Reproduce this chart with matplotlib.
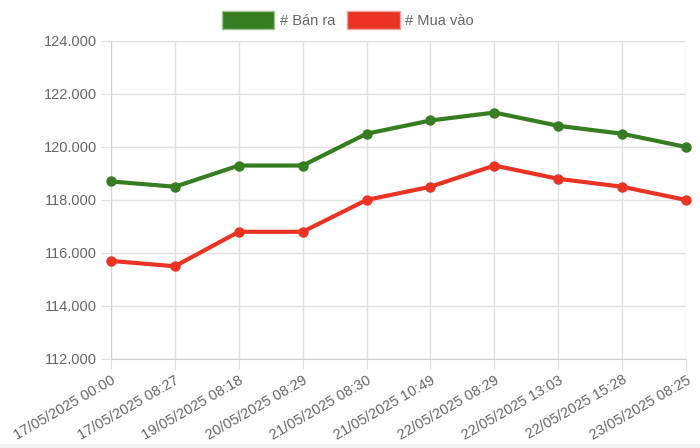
import matplotlib
matplotlib.use("Agg")
import matplotlib.pyplot as plt
from matplotlib.patches import Patch, Rectangle

labels = ["17/05/2025 00:00", "17/05/2025 08:27", "19/05/2025 08:18",
          "20/05/2025 08:29", "21/05/2025 08:30", "21/05/2025 10:49",
          "22/05/2025 08:29", "22/05/2025 13:03", "22/05/2025 15:28",
          "23/05/2025 08:25"]
ban_ra = [118700, 118500, 119300, 119300, 120500, 121000, 121300, 120800, 120500, 120000]
mua_vao = [115700, 115500, 116800, 116800, 118000, 118500, 119300, 118800, 118500, 118000]

green = "#367c21"
red = "#ea3323"
grey = "#666666"

plt.rcParams['font.family'] = ['Liberation Sans', 'DejaVu Sans']

fig = plt.figure(figsize=(7, 4.48), dpi=100)
ax = fig.add_axes([0.1586, 0.1987, 0.8214, 0.7098])

x = list(range(len(labels)))
ax.plot(x, ban_ra, color=green, lw=3, marker="o", ms=6.5, clip_on=False, zorder=3)
ax.plot(x, mua_vao, color=red, lw=3, marker="o", ms=6.5, clip_on=False, zorder=3)

ax.set_xlim(0, len(labels) - 1)
ax.set_ylim(112000, 124000)
yt = list(range(112000, 124001, 2000))
ax.set_yticks(yt)
ax.set_yticklabels([f"{v // 1000}.000" for v in yt], fontsize=10.5, color=grey)
ax.set_xticks(x)
ax.set_xticklabels(labels, rotation=30, ha="right", rotation_mode="anchor",
                   fontsize=10.5, color=grey)

ax.grid(True, color="#e0e0e0", lw=1)
ax.set_axisbelow(True)
for s in ["top", "right"]:
    ax.spines[s].set_visible(False)
for s in ["left", "bottom"]:
    ax.spines[s].set_color("#d0d0d0")
ax.tick_params(axis="both", length=7, color="#e0e0e0", pad=3)

handles = [Patch(facecolor=green, edgecolor="#a0c090", label="# Bán ra"),
           Patch(facecolor=red, edgecolor="#f0a0a0", label="# Mua vào")]
fig.legend(handles=handles, loc="upper center", bbox_to_anchor=(0.497, 1.005),
           ncol=2, frameon=False, fontsize=10.5, handlelength=3.6,
           handleheight=1.5, handletextpad=0.4, columnspacing=0.8,
           labelcolor=grey)

# thin grey strip along the bottom edge
fig.patches.append(Rectangle((0, 0), 1, 0.008, transform=fig.transFigure,
                             facecolor="#f2f2f2", edgecolor="none"))

fig.patch.set_facecolor("white")
fig.savefig("out.png", dpi=100)
